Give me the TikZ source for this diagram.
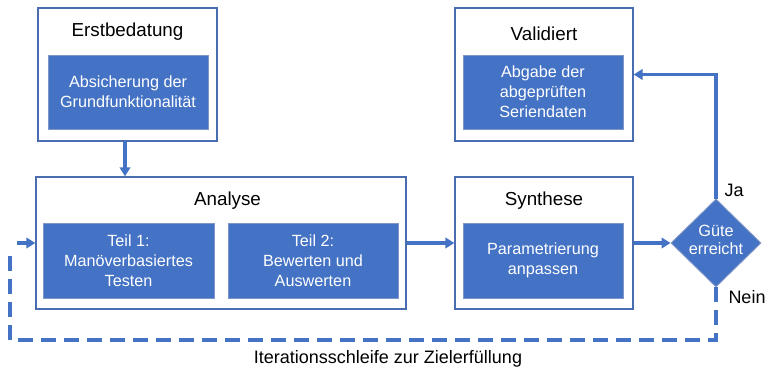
\documentclass[tikz,border=0pt]{standalone}
\usepackage{fontspec}
\setmainfont{Liberation Sans}
\usetikzlibrary{arrows.meta,shapes.geometric}
\definecolor{ofblue}{HTML}{4472C4}
\definecolor{frameblue}{HTML}{4A6DB0}
\definecolor{innerline}{HTML}{7F95C8}
\begin{document}
\begin{tikzpicture}[x=1pt,y=-1pt,
  outerbox/.style={draw=frameblue,line width=1.3pt,fill=white,minimum width=#1,inner sep=0pt},
  innerbox/.style={draw=innerline,line width=0.9pt,fill=ofblue,text=white,align=center,inner sep=0pt,
    font=\fontsize{16.2}{19.8}\selectfont},
  titletext/.style={font=\fontsize{18.8}{22}\selectfont,text=black},
  labeltext/.style={font=\fontsize{18}{22}\selectfont,text=black},
  flow/.style={draw=ofblue,line width=3.2pt,-{Triangle[length=9pt,width=10.5pt]}},
  loop/.style={draw=ofblue,line width=3.2pt,dash pattern=on 15pt off 8pt}
]
\useasboundingbox (0,0) rectangle (768,371);
% outer boxes
\node[outerbox=179pt,minimum height=133pt] (erst) at (127.5,74.5) {};
\node[outerbox=178pt,minimum height=133pt] (val) at (544,74.5) {};
\node[outerbox=370pt,minimum height=132pt] (ana) at (221,243) {};
\node[outerbox=178pt,minimum height=132pt] (syn) at (544,243) {};
% titles
\node[titletext] (terst) at (127.5,32) {Erstbedatung};
\node[titletext] (tval) at (544,34) {Validiert};
\node[titletext] (tana) at (227.5,201) {Analyse};
\node[titletext] (tsyn) at (544,201) {Synthese};
% inner boxes
\node[innerbox,minimum width=160pt,minimum height=74pt] (erstin) at (128,92) {Absicherung der\\Grundfunktionalität};
\node[innerbox,minimum width=160pt,minimum height=74pt] (valin) at (543,92) {Abgabe der\\abgeprüften\\Seriendaten};
\node[innerbox,minimum width=171pt,minimum height=75pt] (teil1) at (128.5,260.5) {Teil 1:\\Manöverbasiertes\\Testen};
\node[innerbox,minimum width=170pt,minimum height=75pt] (teil2) at (313,260.5) {Teil 2:\\Bewerten und\\Auswerten};
\node[innerbox,minimum width=160pt,minimum height=75pt] (synin) at (543,260.5) {Parametrierung\\anpassen};
% decision
\node[diamond,draw=innerline,line width=0.9pt,fill=ofblue,minimum width=90pt,minimum height=88pt,inner sep=0pt] (dia) at (716,243) {};
\node[text=white,align=center,font=\fontsize{16.3}{18.5}\selectfont] (diatext) at (716,240) {Güte\\erreicht};
% labels
\node[labeltext] (ja) at (734,190) {Ja};
\node[labeltext] (nein) at (747,297) {Nein};
\node[labeltext] (iter) at (388,359) {Iterationsschleife zur Zielerfüllung};
% connectors
\coordinate (erstdown) at (125,141);
\draw[flow] (erstdown) -- (erstdown |- ana.north);
\draw[flow] (ana.east) -- (syn.west);
\draw[flow] (syn.east) -- (dia.west);
\draw[flow] (dia.north) |- (val.east);
\coordinate (lbot) at (716,340);
\coordinate (lleft) at (10,340);
\coordinate (lup) at (10,249);
\draw[loop] (dia.south) -- (lbot) -- (lleft) -- (lup);
\coordinate (larr) at (17,243);
\draw[flow] (larr) -- (ana.west);
\end{tikzpicture}
\end{document}
